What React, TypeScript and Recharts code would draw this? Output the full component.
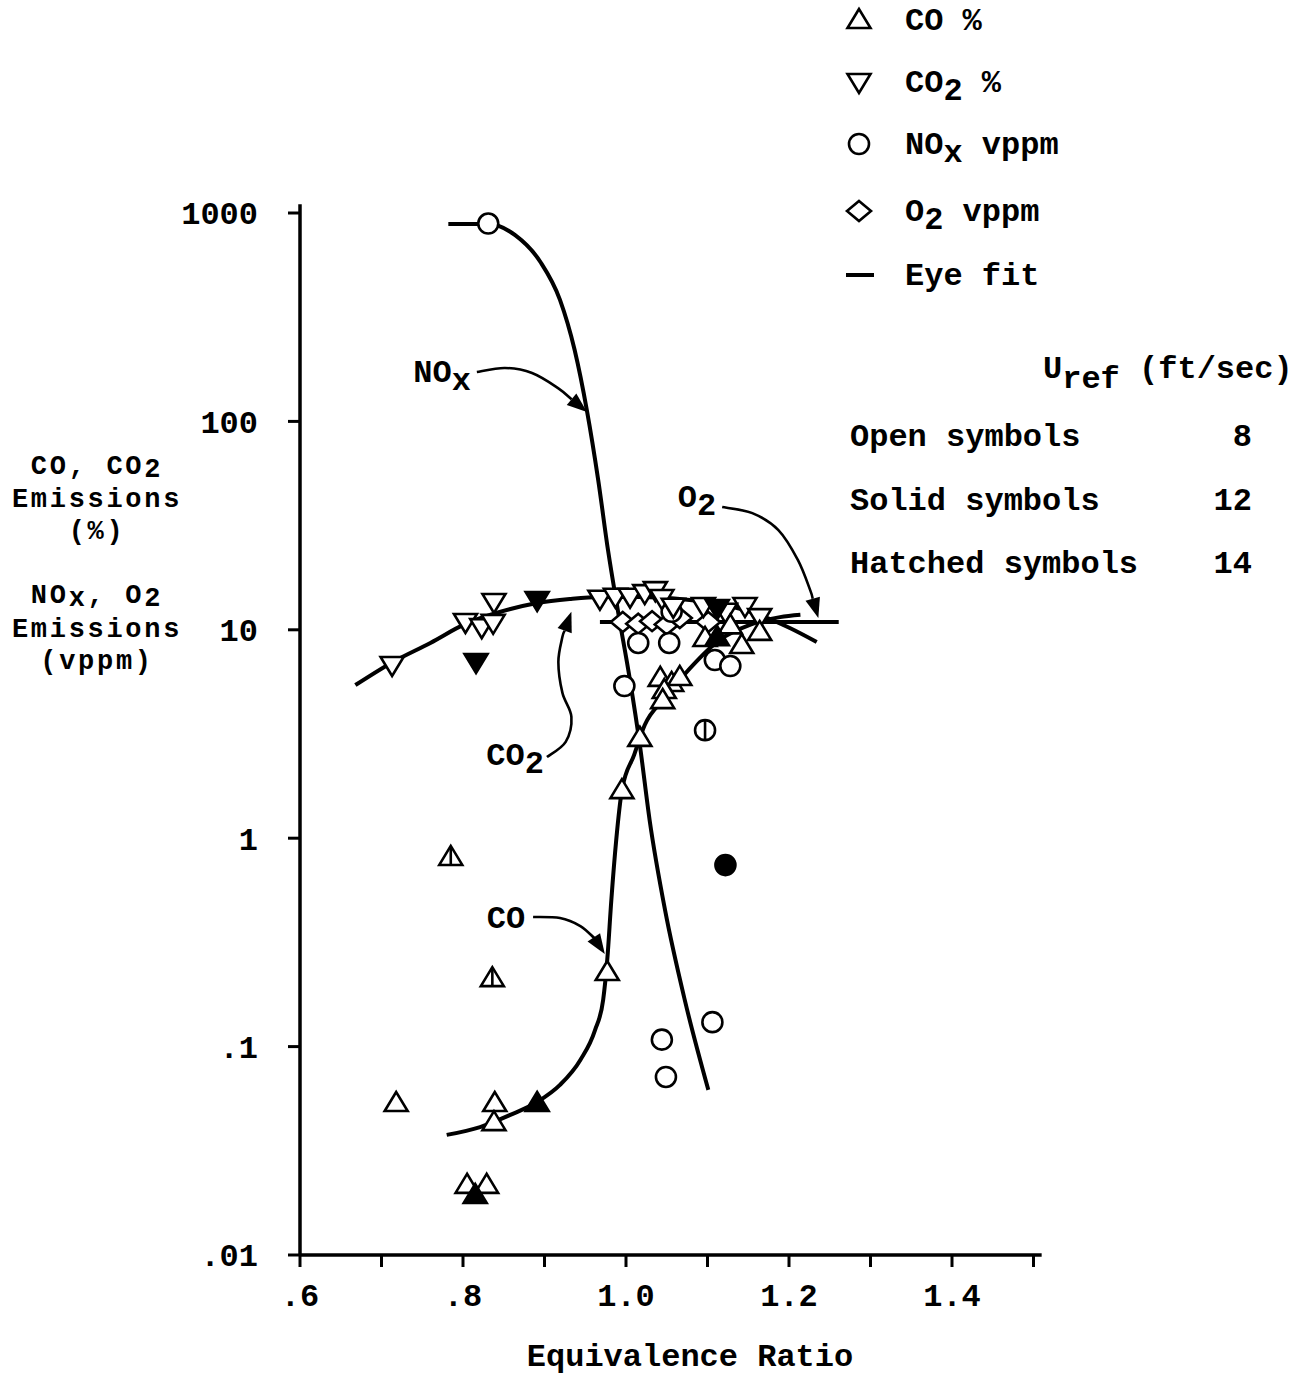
import React from "react";
import { ComposedChart, XAxis, YAxis, Scatter, Line, Customized } from "recharts";

// ---------- chart values ----------
const X_DOMAIN: [number, number] = [0.6, 1.51];
const X_TICKS = [0.6, 0.7, 0.8, 0.9, 1.0, 1.1, 1.2, 1.3, 1.4, 1.5];
const X_TICK_LABELS = [".6", "", ".8", "", "1.0", "", "1.2", "", "1.4", ""];
const Y_DOMAIN: [number, number] = [0.01, 1100];
const Y_TICKS = [0.01, 0.1, 1, 10, 100, 1000];
const Y_TICK_LABELS = [".01", ".1", "1", "10", "100", "1000"];

// [equivalence ratio, value]
const CO_OPEN = [
  [0.718, 0.0536], [0.839, 0.0536], [0.838, 0.0434], [0.805, 0.0217], [0.829, 0.0217],
  [0.977, 0.228], [0.995, 1.7], [1.017, 3.03], [1.042, 5.88], [1.056, 5.56], [1.066, 5.94],
  [1.047, 5.14], [1.045, 4.6], [1.097, 9.14], [1.142, 8.45], [1.164, 9.77], [1.128, 10.5],
];
const CO_SOLID = [[0.815, 0.0194], [0.891, 0.0536], [1.112, 9.22]];
const CO_HATCHED = [[0.785, 0.813], [0.836, 0.213]];
const CO2_OPEN = [
  [0.713, 6.78], [0.803, 10.9], [0.823, 10.3], [0.837, 10.8], [0.838, 13.6],
  [0.968, 14.1], [0.987, 14.4], [1.005, 14.4], [1.023, 15.0], [1.036, 15.5], [1.044, 14.2],
  [1.058, 12.9], [1.095, 13.0], [1.146, 13.0], [1.164, 11.5], [1.122, 12.2],
];
const CO2_SOLID = [[0.816, 7.0], [0.891, 13.9], [1.112, 12.7]];
const NOX_OPEN = [
  [0.831, 890], [1.015, 8.65], [1.053, 8.65], [0.998, 5.37], [1.056, 12.2],
  [1.109, 7.16], [1.128, 6.7], [1.044, 0.108], [1.049, 0.0715], [1.106, 0.131],
];
const NOX_SOLID = [[1.122, 0.743]];
const NOX_HATCHED = [[1.097, 3.3]];
const O2_OPEN = [[0.996, 10.9], [1.015, 10.7], [1.032, 11.0], [1.05, 10.6], [1.066, 11.4], [1.101, 10.9]];

// eye-fit curves
const NOX_FIT = [
  [0.782, 886], [0.831, 886], [0.864, 783], [0.895, 582], [0.919, 383], [0.937, 220], [0.952, 113],
  [0.966, 52], [0.978, 24], [0.99, 12.4], [1.005, 5.7], [1.017, 2.8], [1.029, 1.22], [1.048, 0.45],
  [1.072, 0.168], [1.101, 0.062],
];
const CO_FIT = [
  [0.78, 0.0377], [0.821, 0.0411], [0.858, 0.047], [0.891, 0.0542], [0.919, 0.0655], [0.944, 0.0863],
  [0.962, 0.12], [0.972, 0.168], [0.977, 0.261], [0.982, 0.505], [0.988, 0.98], [0.995, 1.7],
  [1.01, 2.51], [1.023, 3.49], [1.048, 4.71], [1.079, 6.56], [1.115, 8.94], [1.152, 10.55],
  [1.189, 11.5], [1.214, 11.8],
];
const CO2_FIT = [
  [0.668, 5.43], [0.714, 7.01], [0.76, 8.65], [0.803, 10.67], [0.845, 12.17], [0.891, 13.45],
  [0.931, 14.06], [0.968, 14.37], [1.017, 14.37], [1.066, 14.06], [1.115, 13.3], [1.164, 11.78],
  [1.201, 10.2], [1.234, 8.74],
];
const O2_FIT = [[0.968, 10.9], [1.261, 10.9]];

// annotation arrows (data coordinates)
const ARROW_NOX = [[0.817, 172.6], [0.8515, 180.5], [0.8847, 170.6], [0.9166, 144.5], [0.9521, 110.9]];
const ARROW_O2 = [[1.118, 38.8], [1.155, 36.3], [1.187, 30.1], [1.211, 21.6], [1.226, 15.5], [1.236, 11.4]];
const ARROW_CO2 = [[0.903, 2.45], [0.926, 2.9], [0.933, 3.82], [0.922, 4.98], [0.917, 7.01], [0.922, 9.25], [0.933, 12.2]];
const ARROW_CO = [[0.886, 0.419], [0.919, 0.414], [0.944, 0.379], [0.961, 0.332], [0.974, 0.278]];

const LEGEND_ITEMS = [
  { kind: "up", main: "CO", sub: "", tail: " %" },
  { kind: "down", main: "CO", sub: "2", tail: " %" },
  { kind: "circle", main: "NO", sub: "x", tail: " vppm" },
  { kind: "diamond", main: "O", sub: "2", tail: " vppm" },
  { kind: "dash", main: "Eye fit", sub: "", tail: "" },
];
const SPEED_ROWS = [
  { label: "Open symbols", value: "8" },
  { label: "Solid symbols", value: "12" },
  { label: "Hatched symbols", value: "14" },
];

// ---------- layout ----------
const W = 1302;
const H = 1378;
const FONT = "'Liberation Mono', 'DejaVu Sans Mono', monospace";
const FS = 32;
const PLOT_LEFT = 300;
const PLOT_BOTTOM = 1255;
const PX_PER_PHI = 815;
const PX_PER_DECADE = 208.4;
const Y_AXIS_W = 120;
const X_AXIS_H = 60;
const plotRight = PLOT_LEFT + (X_DOMAIN[1] - X_DOMAIN[0]) * PX_PER_PHI;
const plotTop = PLOT_BOTTOM - (Math.log10(Y_DOMAIN[1]) - Math.log10(Y_DOMAIN[0])) * PX_PER_DECADE;
const MARGIN = {
  left: PLOT_LEFT - Y_AXIS_W,
  right: W - plotRight,
  top: plotTop,
  bottom: H - PLOT_BOTTOM - X_AXIS_H,
};
const sx = (phi: number) => PLOT_LEFT + (phi - X_DOMAIN[0]) * PX_PER_PHI;
const sy = (v: number) => PLOT_BOTTOM - (Math.log10(v) - Math.log10(Y_DOMAIN[0])) * PX_PER_DECADE;

const toPts = (arr: number[][]) => arr.map(([phi, v]) => ({ phi, v }));

// ---------- symbols ----------
function Sym({ cx, cy, kind, fill = "#fff", hatched = false }: any) {
  const sw = 2.6;
  const st = { stroke: "#000", strokeWidth: sw, fill };
  if (kind === "up") {
    return (
      <g>
        <polygon points={`${cx},${cy - 11} ${cx - 11.5},${cy + 8} ${cx + 11.5},${cy + 8}`} {...st} />
        {hatched && <line x1={cx} y1={cy - 10} x2={cx} y2={cy + 8} stroke="#000" strokeWidth={sw} />}
      </g>
    );
  }
  if (kind === "down") {
    return <polygon points={`${cx - 11.5},${cy - 8} ${cx + 11.5},${cy - 8} ${cx},${cy + 11}`} {...st} />;
  }
  if (kind === "diamond") {
    return <polygon points={`${cx},${cy - 10} ${cx + 12},${cy} ${cx},${cy + 10} ${cx - 12},${cy}`} {...st} />;
  }
  if (kind === "dash") {
    return <line x1={cx - 13} y1={cy} x2={cx + 15} y2={cy} stroke="#000" strokeWidth={4} />;
  }
  return (
    <g>
      <circle cx={cx} cy={cy} r={10} {...st} />
      {hatched && <line x1={cx} y1={cy - 10} x2={cx} y2={cy + 10} stroke="#000" strokeWidth={sw} />}
    </g>
  );
}

const shapeOf = (kind: string, fill: string, hatched = false) => (p: any) => (
  <Sym cx={p.cx} cy={p.cy} kind={kind} fill={fill} hatched={hatched} />
);

// ---------- annotations ----------
function smoothPath(pts: number[][]) {
  let d = `M${pts[0][0]},${pts[0][1]}`;
  for (let i = 0; i < pts.length - 1; i++) {
    const p0 = pts[i - 1] || pts[i];
    const p1 = pts[i];
    const p2 = pts[i + 1];
    const p3 = pts[i + 2] || p2;
    const c1 = [p1[0] + (p2[0] - p0[0]) / 6, p1[1] + (p2[1] - p0[1]) / 6];
    const c2 = [p2[0] - (p3[0] - p1[0]) / 6, p2[1] - (p3[1] - p1[1]) / 6];
    d += ` C${c1[0]},${c1[1]} ${c2[0]},${c2[1]} ${p2[0]},${p2[1]}`;
  }
  return d;
}

function Arrow({ path }: { path: number[][] }) {
  const px = path.map(([phi, v]) => [sx(phi), sy(v)]);
  const tip = px[px.length - 1];
  const prev = px[px.length - 2];
  const ang = Math.atan2(tip[1] - prev[1], tip[0] - prev[0]);
  const L = 20;
  const hw = 7.5;
  const base = [tip[0] - L * Math.cos(ang), tip[1] - L * Math.sin(ang)];
  const body = [...px.slice(0, -1), base];
  const nx = -Math.sin(ang);
  const ny = Math.cos(ang);
  const head = `${tip[0]},${tip[1]} ${base[0] + nx * hw},${base[1] + ny * hw} ${base[0] - nx * hw},${base[1] - ny * hw}`;
  return (
    <g>
      <path d={smoothPath(body)} fill="none" stroke="#000" strokeWidth={2.6} />
      <polygon points={head} fill="#000" />
    </g>
  );
}

function Lbl({ x, y, main, sub, anchor = "end", tail = "" }: any) {
  return (
    <text x={x} y={y} textAnchor={anchor} fontFamily={FONT} fontSize={FS} fontWeight="bold" fill="#000">
      {main}
      {sub && <tspan dy={8}>{sub}</tspan>}
      {tail && <tspan dy={sub ? -8 : 0}>{tail}</tspan>}
    </text>
  );
}

function Annotations() {
  const a = (p: number[][]) => [sx(p[0][0]), sy(p[0][1])];
  const nox = a(ARROW_NOX);
  const o2 = a(ARROW_O2);
  const co2 = a(ARROW_CO2);
  const co = a(ARROW_CO);
  const legendRows = [20, 82, 144, 211, 275];
  const textStyle = { fontFamily: FONT, fontSize: FS, fontWeight: "bold" as const, fill: "#000" };
  const titleStyle = { fontFamily: FONT, fontSize: 27, letterSpacing: 2.7, fontWeight: "bold" as const, fill: "#000" };
  return (
    <g>
      <Arrow path={ARROW_NOX} />
      <Arrow path={ARROW_O2} />
      <Arrow path={ARROW_CO2} />
      <Arrow path={ARROW_CO} />
      <Lbl x={nox[0] - 6} y={nox[1] + 10} main="NO" sub="x" />
      <Lbl x={o2[0] - 6} y={o2[1] + 0} main="O" sub="2" />
      <Lbl x={co2[0] - 3} y={co2[1] + 8} main="CO" sub="2" />
      <Lbl x={co[0] - 8} y={co[1] + 11} main="CO" sub="" />

      {/* legend */}
      {LEGEND_ITEMS.map((it, i) => (
        <g key={i}>
          <Sym cx={859} cy={legendRows[i]} kind={it.kind} fill="#fff" />
          <Lbl x={905} y={legendRows[i] + 10} main={it.main} sub={it.sub} tail={it.tail} anchor="start" />
        </g>
      ))}
      <text x={1043} y={378} {...textStyle}>
        U<tspan dy={10}>ref</tspan>
        <tspan dy={-10}> (ft/sec)</tspan>
      </text>
      {SPEED_ROWS.map((r, i) => (
        <g key={r.label}>
          <text x={850} y={446 + i * 63.5} {...textStyle}>{r.label}</text>
          <text x={1252} y={446 + i * 63.5} textAnchor="end" {...textStyle}>{r.value}</text>
        </g>
      ))}

      {/* y-axis title */}
      <g>
        <text x={97} y={474} textAnchor="middle" {...titleStyle}>CO, CO<tspan dy={3}>2</tspan></text>
        <text x={97} y={507} textAnchor="middle" {...titleStyle}>Emissions</text>
        <text x={97} y={539} textAnchor="middle" {...titleStyle}>(%)</text>
        <text x={97} y={603} textAnchor="middle" {...titleStyle}>NO<tspan dy={3}>x</tspan><tspan dy={-3}>, O</tspan><tspan dy={3}>2</tspan></text>
        <text x={97} y={637} textAnchor="middle" {...titleStyle}>Emissions</text>
        <text x={97} y={669} textAnchor="middle" {...titleStyle}>(vppm)</text>
      </g>
      {/* x-axis title */}
      <text x={690} y={1366} textAnchor="middle" {...textStyle}>Equivalence Ratio</text>
    </g>
  );
}

const tickStyle = { fill: "#000", fontSize: FS, fontFamily: FONT, fontWeight: "bold" };
const lineProps = { stroke: "#000", strokeWidth: 4, dot: false, isAnimationActive: false, type: "monotone" as const, legendType: "none" as const };

export default function App() {
  return (
    <div style={{ position: "absolute", left: 0, top: 0, width: W, height: H, background: "#fff" }}>
      <ComposedChart width={W} height={H} margin={MARGIN}>
        <XAxis
          type="number"
          dataKey="phi"
          domain={X_DOMAIN}
          ticks={X_TICKS}
          allowDataOverflow
          height={X_AXIS_H}
          tickSize={12}
          tickMargin={16}
          tickFormatter={(v: number) => X_TICK_LABELS[X_TICKS.indexOf(v)] ?? ""}
          axisLine={{ stroke: "#000", strokeWidth: 3.5 }}
          tickLine={{ stroke: "#000", strokeWidth: 3 }}
          tick={tickStyle}
          interval={0}
        />
        <YAxis
          type="number"
          dataKey="v"
          scale="log"
          domain={Y_DOMAIN}
          ticks={Y_TICKS}
          allowDataOverflow
          width={Y_AXIS_W}
          tickSize={12}
          tickMargin={30}
          tickFormatter={(v: number) => Y_TICK_LABELS[Y_TICKS.indexOf(v)] ?? ""}
          axisLine={{ stroke: "#000", strokeWidth: 3.5 }}
          tickLine={{ stroke: "#000", strokeWidth: 3 }}
          tick={tickStyle}
          interval={0}
        />
        <Line data={toPts(NOX_FIT)} dataKey="v" {...lineProps} />
        <Line data={toPts(CO_FIT)} dataKey="v" {...lineProps} />
        <Line data={toPts(CO2_FIT)} dataKey="v" {...lineProps} />
        <Line data={toPts(O2_FIT)} dataKey="v" {...lineProps} type="linear" />

        <Scatter data={toPts(O2_OPEN)} dataKey="v" isAnimationActive={false} shape={shapeOf("diamond", "#fff")} />
        <Scatter data={toPts(NOX_OPEN)} dataKey="v" isAnimationActive={false} shape={shapeOf("circle", "#fff")} />
        <Scatter data={toPts(NOX_HATCHED)} dataKey="v" isAnimationActive={false} shape={shapeOf("circle", "#fff", true)} />
        <Scatter data={toPts(NOX_SOLID)} dataKey="v" isAnimationActive={false} shape={shapeOf("circle", "#000")} />
        <Scatter data={toPts(CO2_OPEN)} dataKey="v" isAnimationActive={false} shape={shapeOf("down", "#fff")} />
        <Scatter data={toPts(CO2_SOLID)} dataKey="v" isAnimationActive={false} shape={shapeOf("down", "#000")} />
        <Scatter data={toPts(CO_OPEN)} dataKey="v" isAnimationActive={false} shape={shapeOf("up", "#fff")} />
        <Scatter data={toPts(CO_HATCHED)} dataKey="v" isAnimationActive={false} shape={shapeOf("up", "#fff", true)} />
        <Scatter data={toPts(CO_SOLID)} dataKey="v" isAnimationActive={false} shape={shapeOf("up", "#000")} />
        <Customized component={Annotations} />
      </ComposedChart>
    </div>
  );
}
